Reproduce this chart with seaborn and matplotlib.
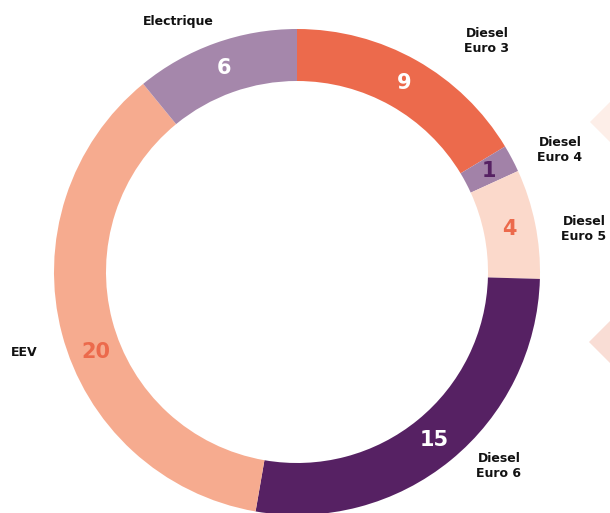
import numpy as np
import matplotlib
matplotlib.use("Agg")
import matplotlib.pyplot as plt
import seaborn as sns
from matplotlib.patches import Polygon

sns.set_theme(style="white")
plt.rcParams['font.family'] = ['DejaVu Sans']

categories = ["Diesel\nEuro 3", "Diesel\nEuro 4", "Diesel\nEuro 5", "Diesel\nEuro 6", "EEV", "Electrique"]
values = [9, 1, 4, 15, 20, 6]
colors = ["#EC6A4C", "#A282A8", "#FBD9CB", "#562163", "#F6AB8F", "#A587AB"]
value_colors = ["white", "#562163", "#EC6A4C", "white", "#EC6A4C", "white"]
# label positions in pixel coordinates (x, y from top)
label_pos = [(487, 41), (560, 150), (584, 229), (499, 466), (24, 353), (178, 21)]
value_angle_shift = [0, 0, 0, 0, 7, 0]

W, H = 610, 513
fig = plt.figure(figsize=(W / 100, H / 100), dpi=100)
ax = fig.add_axes([0, 0, 1, 1])

# decorative diamonds
for (dx, dy, s, col) in [(622, 122, 32, "#FDEEE8"), (622, 342, 33, "#F9DDD5")]:
    ax.add_patch(Polygon([(dx - s, H - dy), (dx, H - dy + s), (dx + s, H - dy), (dx, H - dy - s)],
                         closed=True, facecolor=col, edgecolor="none", zorder=0))

cx, cy = 297, H - 272
R = 243
width = 52
wedges, _ = ax.pie(values, colors=colors, startangle=90, counterclock=False,
                   center=(cx, cy), radius=R, wedgeprops=dict(width=width, edgecolor="none"),
                   frame=True)
ax.set_xlim(0, W)
ax.set_ylim(0, H)
ax.set_aspect("equal")
ax.axis("off")

rmid = R - width / 2
for w, v, c, sh in zip(wedges, values, value_colors, value_angle_shift):
    ang = np.deg2rad((w.theta1 + w.theta2) / 2 + sh)
    ax.text(cx + rmid * np.cos(ang), cy + rmid * np.sin(ang), str(v), color=c,
            fontsize=15, fontweight="bold", ha="center", va="center")

for lab, (x, y) in zip(categories, label_pos):
    ax.text(x, H - y, lab, fontsize=9, fontweight="bold", color="#111111",
            ha="center", va="center", linespacing=1.2)

fig.savefig("out.png", dpi=100)
